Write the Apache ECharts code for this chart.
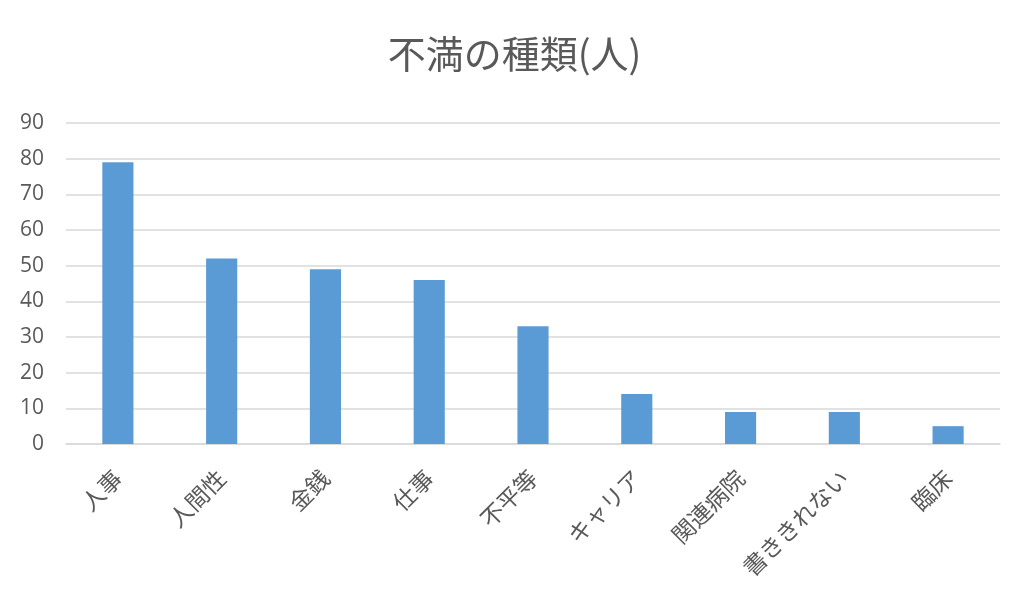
<!DOCTYPE html>
<html><head><meta charset="utf-8">
<script src="https://cdn.jsdelivr.net/npm/echarts@6/dist/echarts.min.js"></script>
<style>html,body{margin:0;padding:0;background:#fff}#c{width:1029px;height:615px}</style>
</head><body><div id="c"></div>
<script>
const categories = ['人事','人間性','金銭','仕事','不平等','キャリア','関連病院','書ききれない','臨床'];
const values = [79,52,49,46,33,14,9,9,5];
const titleText = '不満の種類(人)';
const chart = echarts.init(document.getElementById('c'));
const font = '"Noto Sans CJK JP", "Noto Sans", sans-serif';
chart.setOption({
  animation:false,
  title:{text:titleText,left:'center',top:30,textStyle:{fontFamily:font,fontSize:38,fontWeight:'normal',color:'#595959'}},
  grid:{left:66,right:29,top:123,bottom:171},
  xAxis:{type:'category',data:categories,
    axisLine:{lineStyle:{color:'#d9d9d9',width:1.5}},axisTick:{show:false},
    axisLabel:{rotate:45,fontFamily:font,fontSize:23,color:'#595959',margin:30,interval:0}},
  yAxis:{type:'value',min:0,max:90,interval:10,
    axisLine:{show:false},axisTick:{show:false},
    splitLine:{lineStyle:{color:'#d9d9d9',width:1.5}},
    axisLabel:{fontFamily:'"Open Sans", sans-serif',fontSize:21,color:'#595959',margin:22}},
  series:[{type:'bar',data:values,barWidth:'30%',itemStyle:{color:'#5b9bd5'}}]
});
</script></body></html>
